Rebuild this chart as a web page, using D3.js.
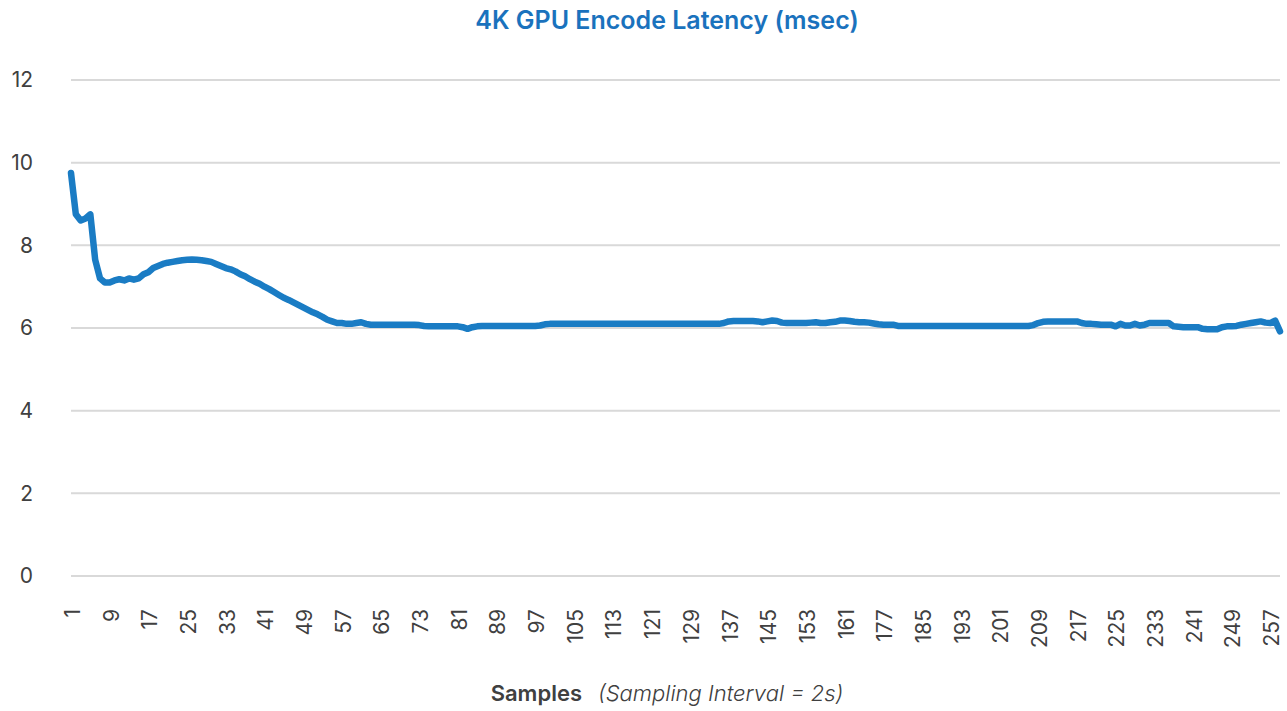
<!DOCTYPE html>
<html>
<head>
<meta charset="utf-8">
<script src="https://cdn.jsdelivr.net/npm/d3@7"></script>
<style>
  body { margin: 0; background: #fff; }
  svg { display: block; font-family: Inter, "Open Sans", sans-serif; }
</style>
</head>
<body>
<svg id="chart" width="1287" height="711"></svg>
<script>
// sample numbers on the category axis (169..176 are absent in the source)
const samples = d3.range(1, 169).concat(d3.range(177, 260));

// latency per sample (msec), one per category above
const latency = [
  9.75, 8.75, 8.6, 8.65, 8.75, 7.65, 7.2, 7.1, 7.1, 7.15,
  7.18, 7.15, 7.2, 7.17, 7.2, 7.3, 7.35, 7.45, 7.5,
  7.55, 7.58, 7.6, 7.62, 7.64, 7.65, 7.66, 7.65, 7.64, 7.62,
  7.6, 7.55, 7.5, 7.45, 7.42, 7.37, 7.3, 7.25, 7.18, 7.12,
  7.07, 7.0, 6.94, 6.87, 6.8, 6.73, 6.68, 6.62, 6.56,
  6.5, 6.44, 6.38, 6.33, 6.27, 6.2, 6.16, 6.12, 6.12, 6.1,
  6.1, 6.12, 6.14, 6.1, 6.08, 6.08, 6.08, 6.08, 6.08,
  6.08, 6.08, 6.08, 6.08, 6.08, 6.07, 6.05, 6.04, 6.04, 6.04,
  6.04, 6.04, 6.04, 6.04, 6.02, 5.98, 6.02, 6.04, 6.05, 6.05,
  6.05, 6.05, 6.05, 6.05, 6.05, 6.05, 6.05, 6.05, 6.05,
  6.05, 6.06, 6.09, 6.1, 6.1, 6.1, 6.1, 6.1, 6.1, 6.1,
  6.1, 6.1, 6.1, 6.1, 6.1, 6.1, 6.1, 6.1, 6.1,
  6.1, 6.1, 6.1, 6.1, 6.1, 6.1, 6.1, 6.1, 6.1, 6.1,
  6.1, 6.1, 6.1, 6.1, 6.1, 6.1, 6.1, 6.1, 6.1, 6.1,
  6.12, 6.16, 6.17, 6.17, 6.17, 6.17, 6.17, 6.16, 6.14, 6.16,
  6.18, 6.17, 6.13, 6.12, 6.12, 6.12, 6.12, 6.12, 6.13, 6.14,
  6.12, 6.12, 6.14, 6.15, 6.18, 6.18, 6.17, 6.15, 6.14, 6.14,
  6.13, 6.11, 6.09, 6.08, 6.08, 6.08, 6.05, 6.05, 6.05, 6.05,
  6.05, 6.05, 6.05, 6.05, 6.05, 6.05, 6.05, 6.05, 6.05,
  6.05, 6.05, 6.05, 6.05, 6.05, 6.05, 6.05, 6.05, 6.05,
  6.05, 6.05, 6.05, 6.05, 6.05, 6.05, 6.07, 6.12, 6.15, 6.16,
  6.16, 6.16, 6.16, 6.16, 6.16, 6.16, 6.12, 6.1, 6.1,
  6.09, 6.08, 6.08, 6.08, 6.04, 6.1, 6.06, 6.06, 6.1, 6.06,
  6.08, 6.12, 6.12, 6.12, 6.12, 6.12,
  6.04, 6.03, 6.02, 6.02, 6.02, 6.02, 5.98, 5.97, 5.97, 5.97,
  6.02, 6.04, 6.04, 6.05, 6.08, 6.1, 6.12, 6.14, 6.16, 6.13,
  6.12, 6.18, 5.92
];
const yTicks = [0, 2, 4, 6, 8, 10, 12];
const xLabelEvery = 8;

const title = "4K GPU Encode Latency (msec)";
const xLabelMain = "Samples";
const xLabelNote = "(Sampling Interval = 2s)";

const svg = d3.select("#chart");
const margin = { left: 71, right: 7, top: 80, bottom: 135 };
const width = 1287, height = 711;

// category axis: one point per sample, first and last on the plot edges
const x = d3.scalePoint()
  .domain(samples)
  .range([margin.left, width - margin.right]);
const y = d3.scaleLinear()
  .domain([0, 12])
  .range([height - margin.bottom, margin.top]);

// horizontal gridlines
svg.append("g")
  .selectAll("line")
  .data(yTicks)
  .join("line")
  .attr("x1", margin.left)
  .attr("x2", width - margin.right)
  .attr("y1", d => y(d))
  .attr("y2", d => y(d))
  .attr("stroke", "#d9d9d9")
  .attr("stroke-width", 2);

// y axis labels
const yAxis = svg.append("g")
  .attr("transform", `translate(${margin.left - 38},0)`)
  .call(d3.axisLeft(y).tickValues(yTicks).tickSize(0).tickPadding(0));
yAxis.select(".domain").remove();
yAxis.selectAll("text")
  .attr("font-size", 21)
  .attr("fill", "#404040")
  .attr("font-family", "Inter, sans-serif");

// x axis labels, every 8th category, rotated
const xTickVals = samples.filter((s, i) => i % xLabelEvery === 0);
const xAxis = svg.append("g")
  .attr("transform", `translate(0,${y(0)})`)
  .call(d3.axisBottom(x).tickValues(xTickVals).tickSize(0));
xAxis.select(".domain").remove();
xAxis.selectAll("text")
  .attr("font-size", 21)
  .attr("fill", "#404040")
  .attr("font-family", "Inter, sans-serif")
  .attr("text-anchor", "end")
  .attr("dy", "0.35em")
  .attr("transform", "translate(1,33) rotate(-90)")
  .attr("x", 0)
  .attr("y", 0);

// the line
const line = d3.line()
  .x((d, i) => x(samples[i]))
  .y(d => y(d));
svg.append("path")
  .datum(latency)
  .attr("fill", "none")
  .attr("stroke", "#1a7cc4")
  .attr("stroke-width", 6.5)
  .attr("stroke-linejoin", "round")
  .attr("stroke-linecap", "round")
  .attr("d", line);

// title
svg.append("text")
  .attr("x", 667)
  .attr("y", 29)
  .attr("text-anchor", "middle")
  .attr("font-size", 25)
  .attr("font-weight", 600)
  .attr("fill", "#1a72bd")
  .text(title);

// x axis title
const xt = svg.append("text")
  .attr("x", 667)
  .attr("y", 701)
  .attr("text-anchor", "middle")
  .attr("font-size", 22)
  .attr("fill", "#404040");
xt.append("tspan").attr("font-weight", 600).text(xLabelMain);
xt.append("tspan").attr("dx", 16).attr("font-style", "italic").attr("font-weight", 300).text(xLabelNote);
</script>
</body>
</html>
